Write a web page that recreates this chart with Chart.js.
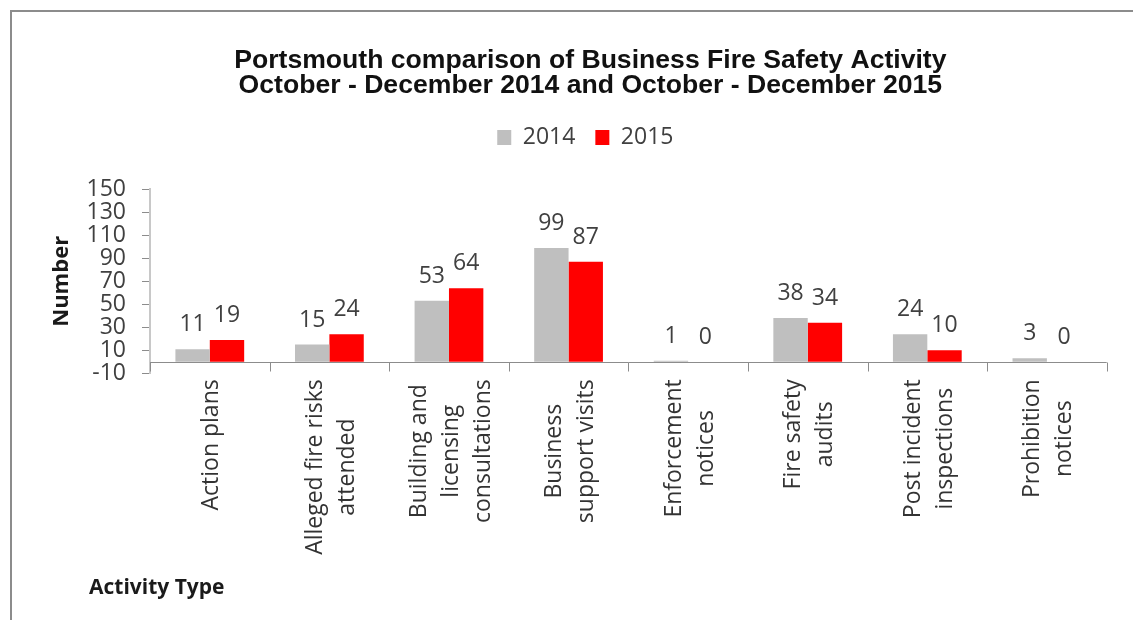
<!DOCTYPE html>
<html>
<head>
<meta charset="utf-8">
<script src="https://cdn.jsdelivr.net/npm/chart.js@4/dist/chart.umd.min.js"></script>
<style>
  html, body { margin: 0; padding: 0; background: #fff; overflow: hidden; }
  #frame {
    position: absolute; left: 10px; top: 10px;
    width: 1121px; height: 608px; overflow: hidden;
    border-left: 2px solid #8c8c8c; border-top: 2px solid #8c8c8c;
  }
  #holder { position: relative; width: 1160px; height: 620px; }
</style>
</head>
<body>
<div id="frame"><div id="holder"><canvas id="activityChart"></canvas></div></div>
<script>
const categories = [
  ["Action plans"],
  ["Alleged fire risks", "attended"],
  ["Building and", "licensing", "consultations"],
  ["Business", "support visits"],
  ["Enforcement", "notices"],
  ["Fire safety", "audits"],
  ["Post incident", "inspections"],
  ["Prohibition", "notices"]
];
const values2014 = [11, 15, 53, 99, 1, 38, 24, 3];
const values2015 = [19, 24, 64, 87, 0, 34, 10, 0];
const seriesNames = ["2014", "2015"];
const yMin = -10, yMax = 150, yStep = 20;

const labelFont = '"Open Sans", "Noto Sans", sans-serif';
const axisGrey = "#8c8c8c";

// Excel-style extras: zero line, category ticks, value labels, centred rotated labels
const excelBits = {
  id: "excelBits",
  beforeInit(chart) {
    const fitLegend = chart.legend.fit;
    chart.legend.fit = function () {
      fitLegend.call(this);
      this.height = 83.3;
    };
  },
  afterLayout(chart) {
    chart.titleBlock.left += 31; chart.titleBlock.right += 31;
    chart.legend.left += 26; chart.legend.right += 26;
  },
  afterDatasetsDraw(chart) {
    const { ctx, chartArea, scales: { x, y } } = chart;
    ctx.save();

    const y0 = Math.round(y.getPixelForValue(0)) + 0.5;
    ctx.strokeStyle = axisGrey;
    ctx.lineWidth = 1;
    ctx.beginPath();
    ctx.moveTo(chartArea.left, y0);
    ctx.lineTo(chartArea.right, y0);
    for (let i = 0; i <= categories.length; i++) {
      const px = Math.round(x.getPixelForValue(i - 0.5)) + 0.5;
      ctx.moveTo(px, y0);
      ctx.lineTo(px, y0 + 9);
    }
    ctx.stroke();

    // value labels
    ctx.font = "23px " + labelFont;
    ctx.fillStyle = "#404040";
    ctx.textAlign = "center";
    ctx.textBaseline = "alphabetic";
    chart.data.datasets.forEach((ds, di) => {
      chart.getDatasetMeta(di).data.forEach((bar, i) => {
        ctx.fillText(String(ds.data[i]), bar.x, bar.y - 18);
      });
    });

    // category labels, rotated and centred line by line
    const lh = 32;
    ctx.fillStyle = "#333";
    ctx.textBaseline = "middle";
    categories.forEach((lines, i) => {
      const maxW = Math.max(...lines.map(t => ctx.measureText(t).width));
      const cx = x.getPixelForValue(i) + 2;
      const cy = chartArea.bottom + 6 + maxW / 2;
      ctx.save();
      ctx.translate(cx, cy);
      ctx.rotate(-Math.PI / 2);
      lines.forEach((t, k) => {
        ctx.fillText(t, 0, (k - (lines.length - 1) / 2) * lh);
      });
      ctx.restore();
    });

    // axis title at bottom left
    ctx.font = "bold 21px " + labelFont;
    ctx.fillStyle = "#1a1a1a";
    ctx.textAlign = "left";
    ctx.fillText("Activity Type", chartArea.left - 61, 576);

    ctx.restore();
  }
};

new Chart(document.getElementById("activityChart"), {
  type: "bar",
  data: {
    labels: categories,
    datasets: [
      { label: seriesNames[0], data: values2014, backgroundColor: "#bfbfbf" },
      { label: seriesNames[1], data: values2015, backgroundColor: "#ff0000" }
    ]
  },
  options: {
    responsive: true,
    maintainAspectRatio: false,
    animation: false,
    layout: { padding: { left: 0, right: 65.3, top: 0, bottom: 258.7 } },
    datasets: { bar: { categoryPercentage: 0.575, barPercentage: 1.0 } },
    scales: {
      x: { display: false },
      y: {
        min: yMin,
        max: yMax,
        ticks: {
          stepSize: yStep,
          autoSkip: false,
          padding: 16,
          color: "#404040",
          font: { family: labelFont, size: 23, lineHeight: 1 }
        },
        grid: { drawOnChartArea: false, tickLength: 8, tickColor: axisGrey },
        border: { color: "#c8c8c8", width: 2 },
        title: {
          display: true,
          text: "Number",
          color: "#1a1a1a",
          font: { family: labelFont, size: 22, weight: "bold" },
          padding: { top: 37, bottom: 0 }
        },
        afterFit(scale) { scale.width = 138; }
      }
    },
    plugins: {
      title: {
        display: true,
        text: ["Portsmouth comparison of Business Fire Safety Activity",
               "October - December 2014 and October - December 2015"],
        color: "#111",
        font: { family: '"Liberation Sans", Arial, sans-serif', size: 26.6, weight: "bold", lineHeight: "25px" },
        padding: { top: 36.5, bottom: 7.5 }
      },
      legend: {
        labels: {
          boxWidth: 14,
          boxHeight: 15,
          padding: 20,
          color: "#404040",
          font: { family: labelFont, size: 23 }
        }
      },
      tooltip: { enabled: false }
    }
  },
  plugins: [excelBits]
});
</script>
</body>
</html>
